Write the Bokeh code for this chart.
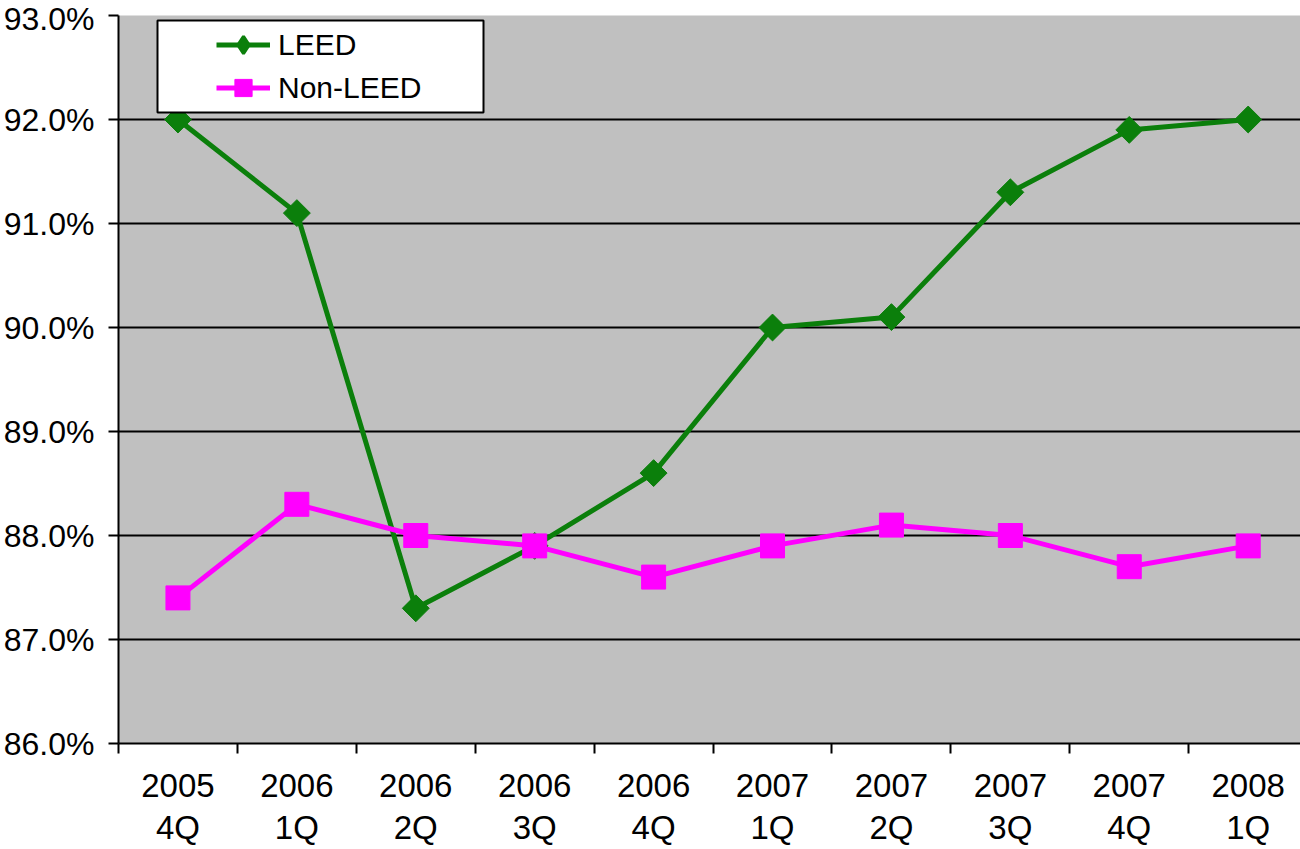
import math
from bokeh.plotting import figure
from bokeh.models import (Range1d, FixedTicker, PrintfTickFormatter, Legend, LegendItem,
                          BoxAnnotation, ColumnDataSource)
from bokeh.embed import file_html
from bokeh.resources import INLINE

quarters = ["2005\n4Q", "2006\n1Q", "2006\n2Q", "2006\n3Q", "2006\n4Q",
            "2007\n1Q", "2007\n2Q", "2007\n3Q", "2007\n4Q", "2008\n1Q"]
leed = [92.0, 91.1, 87.3, 87.9, 88.6, 90.0, 90.1, 91.3, 91.9, 92.0]
non_leed = [87.4, 88.3, 88.0, 87.9, 87.6, 87.9, 88.1, 88.0, 87.7, 87.9]
y_ticks = [86, 87, 88, 89, 90, 91, 92, 93]

idx = list(range(len(quarters)))
src = ColumnDataSource(dict(x=idx, leed=leed, non=non_leed))

FONT = "Liberation Sans"
GREEN = "#0b7f0b"
PINK = "#ff00ff"

FW, FH = 1182, 728
p = figure(frame_width=FW, frame_height=FH, output_backend="svg", toolbar_location=None,
           x_range=Range1d(-0.5, 9.44), y_range=Range1d(86, 93),
           min_border_left=118, min_border_right=0, min_border_top=15, min_border_bottom=0)
p.background_fill_color = "#c0c0c0"
p.border_fill_color = "white"
p.outline_line_color = None

# y axis
p.yaxis.ticker = FixedTicker(ticks=y_ticks, minor_ticks=[])
p.yaxis.formatter = PrintfTickFormatter(format="%.1f%%")
p.yaxis.major_tick_out = 10
p.yaxis.major_tick_in = 0
p.yaxis.major_tick_line_width = 2
p.yaxis.major_tick_line_color = "black"
p.yaxis.axis_line_width = 2
p.yaxis.axis_line_color = "black"
p.yaxis.major_label_standoff = 14
p.yaxis.major_label_text_font = FONT
p.yaxis.major_label_text_font_size = "32px"
p.yaxis.major_label_text_color = "black"

# x axis
p.xaxis.ticker = FixedTicker(ticks=idx, minor_ticks=[i - 0.5 for i in range(11)])
p.xaxis.major_label_overrides = {i: q for i, q in zip(idx, quarters)}
p.xaxis.major_tick_out = 0
p.xaxis.major_tick_in = 0
p.xaxis.minor_tick_out = 10
p.xaxis.minor_tick_in = 0
p.xaxis.minor_tick_line_width = 2
p.xaxis.minor_tick_line_color = "black"
p.xaxis.axis_line_width = 2
p.xaxis.axis_line_color = "black"
p.xaxis.major_label_standoff = 13
p.xaxis.major_label_text_font = FONT
p.xaxis.major_label_text_font_size = "33px"
p.xaxis.major_label_text_color = "black"
p.xaxis.major_label_text_line_height = 1.15

p.xgrid.grid_line_color = None
p.ygrid.grid_line_color = "black"
p.ygrid.grid_line_width = 2

l1 = p.line("x", "leed", source=src, line_color=GREEN, line_width=5)
# diamond used as the legend glyph (fully covered by the rotated squares below)
m1_leg = p.scatter("x", "leed", source=src, marker="diamond", size=22,
                   fill_color=GREEN, line_color=GREEN, line_width=3)
m1 = p.scatter("x", "leed", source=src, marker="square", angle=math.pi / 4, size=19,
               fill_color=GREEN, line_color=GREEN)
l2 = p.line("x", "non", source=src, line_color=PINK, line_width=5)
m2 = p.scatter("x", "non", source=src, marker="square", size=24,
               fill_color=PINK, line_color=PINK)

box = BoxAnnotation(left=39, right=365, top=FH - 5, bottom=FH - 97,
                    left_units="screen", right_units="screen",
                    top_units="screen", bottom_units="screen",
                    fill_color="white", fill_alpha=1.0,
                    line_color="black", line_width=2, line_alpha=1.0)
p.add_layout(box)

legend = Legend(items=[LegendItem(label="LEED", renderers=[l1, m1_leg]),
                       LegendItem(label="Non-LEED", renderers=[l2, m2])],
                location=(98, FH - 8 - 86), padding=0, spacing=0, margin=0,
                glyph_width=54, glyph_height=43, label_height=43, label_standoff=8,
                label_text_font=FONT, label_text_font_size="30px", label_text_color="black",
                background_fill_alpha=0, border_line_color=None)
p.add_layout(legend)

open("out.html", "w").write(file_html(p, INLINE))
